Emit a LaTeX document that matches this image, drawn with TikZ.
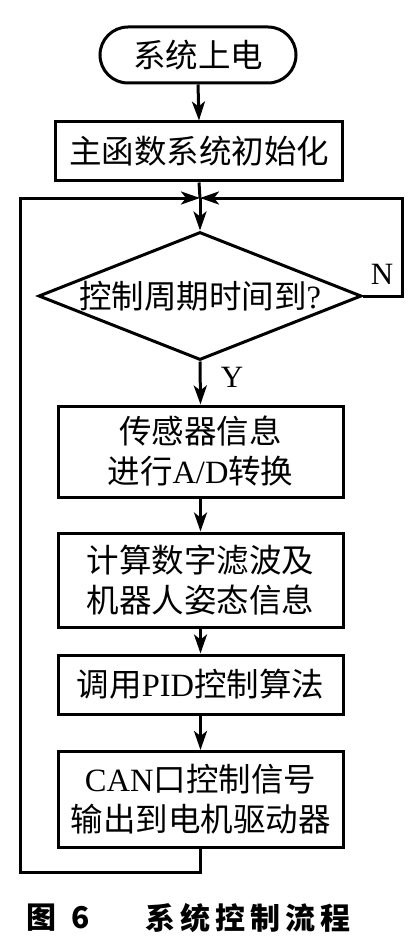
\documentclass[tikz,border=0pt]{standalone}
\usepackage{fontspec}
\setmainfont{Liberation Serif}
\newfontfamily\cjk{Noto Sans CJK SC}
\usetikzlibrary{shapes.geometric,arrows.meta}
\begin{document}
\begin{tikzpicture}[x=1pt,y=-1pt,
  lw/.style={line width=3pt},
  txt/.style={font=\fontsize{32.5}{40}\selectfont, align=center},
  procbox/.style={draw, lw, txt, minimum width=285pt, inner sep=0pt},
  arr/.style={lw, -{Stealth[length=19pt,width=13pt,inset=5pt]}},
  plain/.style={lw},
  lbl/.style={font=\fontsize{31}{36}\selectfont, inner sep=0pt},
  capt/.style={font=\fontsize{30}{36}\selectfont\cjk\bfseries, inner sep=0pt}]
\useasboundingbox (0,0) rectangle (414,944);
\fill[white] (0,0) rectangle (414,944);

\node[draw, lw, txt, rounded corners=28pt, minimum width=196pt, minimum height=56pt, inner sep=0pt] (start) at (198,55) {\cjk 系统上电};
\node[procbox, minimum width=287pt, minimum height=59pt] (init) at (199,151.5) {\cjk 主函数系统初始化};
\coordinate (j) at (200,198);
\node[draw, lw, txt, diamond, aspect=2.52, inner sep=0pt, minimum width=323pt, minimum height=128pt] (dec) at (200,296) {{\cjk 控制周期时间到}?};
\node[procbox, minimum height=91pt] (b2) at (200.5,451.5) {{\cjk 传感器信息}\\{\cjk 进行}A/D{\cjk 转换}};
\node[procbox, minimum height=94pt] (b3) at (200.5,580) {{\cjk 计算数字滤波及}\\{\cjk 机器人姿态信息}};
\node[procbox, minimum height=59pt] (b4) at (200.5,684.5) {{\cjk 调用}PID{\cjk 控制算法}};
\node[procbox, minimum height=96pt] (b5) at (200.5,799.5) {CAN{\cjk 口控制信号}\\{\cjk 输出到电机驱动器}};

\coordinate (nr) at (402,296);
\coordinate (lb) at (20,872);

\draw[arr] (start.south) -- (init.north);
\draw[plain] (init.south) -- (j);
\draw[arr] (j) -- (dec.north);
\draw[arr] (dec.south) -- (b2.north);
\draw[arr] (b2.south) -- (b3.north);
\draw[arr] (b3.south) -- (b4.north);
\draw[arr] (b4.south) -- (b5.north);
\draw[arr] (dec.east) -- (nr) |- (j);
\draw[arr] (b5.south) |- (lb) |- (j);

\node[lbl] (nlab) at (382,274) {N};
\node[lbl] (ylab) at (232,377) {Y};

\node[capt] (c1) at (41,918) {图};
\node[capt] (c2) at (81,918) {6};
\node[capt] (c3) at (248,918) {系\hspace{5pt}统\hspace{5pt}控\hspace{5pt}制\hspace{5pt}流\hspace{5pt}程};
\end{tikzpicture}
\end{document}
